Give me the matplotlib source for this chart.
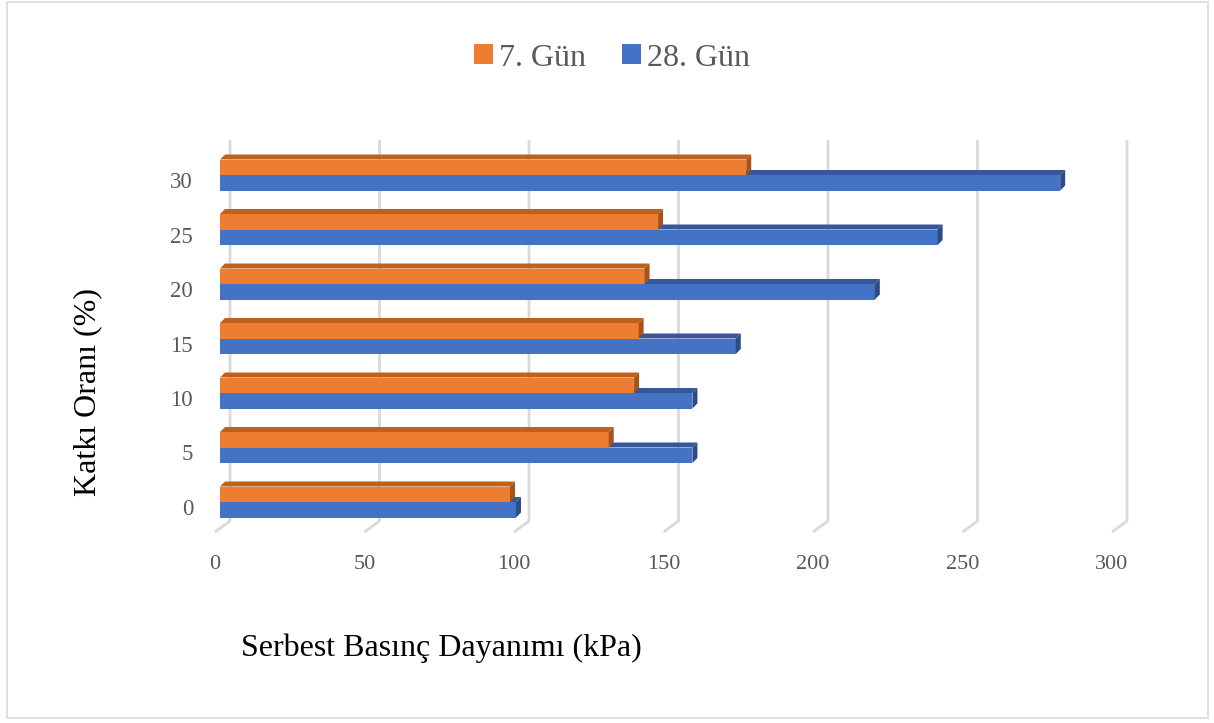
import matplotlib
matplotlib.use("Agg")
import matplotlib.pyplot as plt
from matplotlib.patches import Polygon, Rectangle, Patch

# ---------- data ----------
oran = ["0", "5", "10", "15", "20", "25", "30"]
gun7 = [97, 130, 138.5, 140, 142, 146.5, 176]
gun28 = [99, 158, 158, 172.5, 219, 240, 281]
xticks = [0, 50, 100, 150, 200, 250, 300]

ORANGE, ORANGE_TOP, ORANGE_SIDE = "#ED7D31", "#C0601F", "#A8531A"
BLUE, BLUE_TOP, BLUE_SIDE = "#4472C4", "#34589A", "#2D4C86"
GRID = "#D9D9D9"
TXT = "#595959"

plt.rcParams["font.family"] = ["Liberation Serif", "DejaVu Serif"]

W, H = 1214, 723
fig = plt.figure(figsize=(W / 100, H / 100), dpi=100)

# axes placed in pixel terms
L, R, T, B = 200, 1140, 140, 540
ax = fig.add_axes([L / W, (H - B) / H, (R - L) / W, (B - T) / H])

PX_PER_UNIT = 2.99      # x scale
PX_PER_CAT = 54.5       # category spacing
x0_px, y0_px = 220, 507
ax.set_xlim((L - x0_px) / PX_PER_UNIT, (R - x0_px) / PX_PER_UNIT)
ax.set_ylim((y0_px - B) / PX_PER_CAT, (y0_px - T) / PX_PER_CAT)

# 3D-ish offsets in data units
back_dx = 10 / PX_PER_UNIT
front_dx = -5 / PX_PER_UNIT
back_y = (y0_px - 521) / PX_PER_CAT
front_y = (y0_px - 532) / PX_PER_CAT
top_y = (y0_px - T) / PX_PER_CAT

# gridlines: back wall + floor
for v in xticks:
    ax.plot([v + back_dx, v + back_dx, v + front_dx], [top_y, back_y, front_y],
            color=GRID, lw=2, solid_capstyle="butt", zorder=1)

bar_h = 15.5 / PX_PER_CAT
dx = 5 / PX_PER_UNIT
dy = 5 / PX_PER_CAT
shift = 5 / PX_PER_CAT


def bar3d(y, v, c, ctop, cside):
    ax.add_patch(Rectangle((0, y), v, bar_h, facecolor=c, edgecolor="none", zorder=3))
    ax.add_patch(Polygon([(0, y + bar_h), (v, y + bar_h), (v + dx, y + bar_h + dy),
                          (dx, y + bar_h + dy)], closed=True, facecolor=ctop,
                         edgecolor="none", zorder=3))
    ax.add_patch(Polygon([(v, y), (v, y + bar_h), (v + dx, y + bar_h + dy), (v + dx, y + dy)],
                         closed=True, facecolor=cside, edgecolor="none", zorder=3))


for i in range(len(oran)):
    mid = i + shift
    bar3d(mid - bar_h, gun28[i], BLUE, BLUE_TOP, BLUE_SIDE)
    bar3d(mid, gun7[i], ORANGE, ORANGE_TOP, ORANGE_SIDE)

ax.set_xticks([v + front_dx for v in xticks])
ax.set_xticklabels([str(v) for v in xticks])
ax.set_yticks(range(len(oran)))
ax.set_yticklabels(oran)
ax.tick_params(axis="x", length=0, pad=11, labelsize=16, labelcolor=TXT)
ax.tick_params(axis="y", length=0, pad=5, labelsize=16.5, labelcolor=TXT)
for s in ax.spines.values():
    s.set_visible(False)
ax.patch.set_alpha(0)

fig.text(441 / W, 1 - 648 / H, "Serbest Basınç Dayanımı (kPa)", fontsize=23,
         ha="center", va="center", color="black")
fig.text(88 / W, 1 - 392 / H, "Katkı Oranı (%)", fontsize=23, rotation=90,
         ha="center", va="center", color="black")

handles = [Patch(facecolor=ORANGE, label="7. Gün"), Patch(facecolor=BLUE, label="28. Gün")]
leg = fig.legend(handles=handles, loc="center", bbox_to_anchor=(612 / W, 1 - 58 / H),
                 ncol=2, frameon=False, fontsize=23, handlelength=0.6, handleheight=0.6,
                 handletextpad=0.2, columnspacing=1.1, labelcolor=TXT)

# outer chart border
fig.add_artist(Rectangle((7 / W, 1 - 718 / H), 1201 / W, 716 / H, transform=fig.transFigure,
                         facecolor="none", edgecolor=GRID, lw=1.2))

fig.savefig("out.png", dpi=100)
